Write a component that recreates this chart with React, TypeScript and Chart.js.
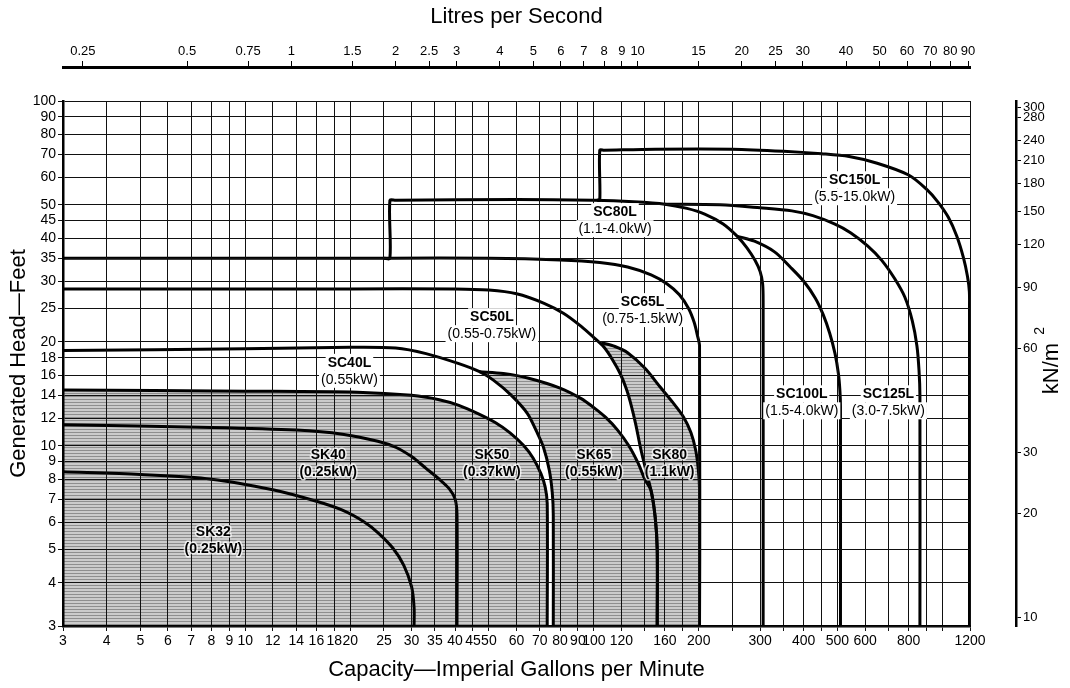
import React, { useEffect, useRef } from 'react';
import { Chart, registerables } from 'chart.js';

Chart.register(...registerables);

const FONT = '"Liberation Sans", Arial, Helvetica, sans-serif';

// ---------- axis values ----------
const GPM_GRID = [3, 4, 5, 6, 7, 8, 9, 10, 12, 14, 16, 18, 20, 25, 30, 35, 40, 45, 50, 60, 70, 80, 90, 100, 120, 140, 160, 180, 200, 250, 300, 350, 400, 450, 500, 600, 700, 800, 900, 1000, 1200];
const GPM_LABELLED = [3, 4, 5, 6, 7, 8, 9, 10, 12, 14, 16, 18, 20, 25, 30, 35, 40, 45, 50, 60, 70, 80, 90, 100, 120, 160, 200, 300, 400, 500, 600, 800, 1200];
const FEET_TICKS = [3, 4, 5, 6, 7, 8, 9, 10, 12, 14, 16, 18, 20, 25, 30, 35, 40, 45, 50, 60, 70, 80, 90, 100];
const LPS_TICKS = [0.25, 0.5, 0.75, 1, 1.5, 2, 2.5, 3, 4, 5, 6, 7, 8, 9, 10, 15, 20, 25, 30, 40, 50, 60, 70, 80, 90];
const KNM2_TICKS = [10, 20, 30, 60, 90, 120, 150, 180, 210, 240, 280, 300];

const GPM_MIN = 3;
const GPM_MAX = 1200;
const FEET_MIN = 3;
const FEET_MAX = 100;
const LPS_MIN = 0.219;
const LPS_MAX = 91.2;
const KNM2_MIN = 9.42;
const KNM2_MAX = 313;

// ---------- pump curves: [gallons per minute, feet] ----------
const SK32: [number, number][] = [[3, 8.4], [5, 8.25], [8, 8.0], [12, 7.45], [16, 6.9], [19, 6.5], [22, 6.0], [24, 5.6], [26.5, 5.05], [28.5, 4.5], [30, 3.9], [30.5, 3.4], [30.5, 3]];
const SK40: [number, number][] = [[3, 11.5], [8, 11.3], [14, 11.1], [19, 10.8], [24, 10.3], [27, 9.9], [30, 9.3], [33, 8.6], [36, 8.0], [38.5, 7.5], [40, 7.0], [40.5, 6.3], [40.5, 3]];
const SK50: [number, number][] = [[3, 14.5], [10, 14.4], [21, 14.3], [30, 14.0], [36, 13.6], [41, 13.1], [46.5, 12.4], [52, 11.7], [57.5, 10.9], [63, 10.0], [67, 9.2], [70.5, 8.3], [72.5, 7.6], [73.5, 6.8], [73.5, 3]];
const SK65: [number, number][] = [[47, 16.4], [55, 16.2], [65, 15.7], [80, 14.7], [92, 13.7], [100, 12.9], [108, 12.1], [117, 11.1], [126, 10.0], [134, 8.9], [140, 8.0], [146, 7.4], [150, 6.2], [152, 5], [152, 3]];
const SK80: [number, number][] = [[105, 19.9], [115, 19.4], [125, 18.6], [140, 16.8], [155, 14.8], [168, 13.4], [181, 12.1], [190, 10.9], [196, 9.7], [199.5, 8.5], [201, 7.5], [201, 3]];

const SC40L: [number, number][] = [[3, 18.9], [10, 19.1], [20, 19.3], [27, 19.2], [33, 18.5], [41, 17.3], [47, 16.4], [51.5, 15.5], [58, 14.0], [64.5, 12.4], [68.5, 11.0], [71.7, 9.9], [74.5, 8.5], [76, 7.3], [76.5, 6.3], [76.5, 3]];
const SC50L: [number, number][] = [[3, 28.5], [20, 28.5], [40, 28.5], [50, 28.3], [60, 27.6], [72, 25.9], [82, 24.2], [92, 22.2], [100, 20.6], [107, 19.3], [113, 17.8], [119, 16.2], [124, 14.6], [128, 13.1], [132, 11.5], [136, 9.9], [141, 8.5], [146, 7.4], [150, 6.2], [152, 5], [152, 3]];
const SC65L: [number, number][] = [[3, 35], [26, 35], [50, 35], [80, 34.6], [104, 34], [125, 33], [146, 31.3], [162, 29.5], [176, 27.4], [187, 25], [194, 22.8], [198, 21], [201, 19.5], [201, 3]];
const SC80L: [number, number][] = [[25, 35], [26, 35], [26, 51.5], [27, 51.5], [60, 51.8], [100, 51.5], [130, 51], [160, 50.2], [185, 48.8], [208, 47], [235, 44], [258, 40.5], [275, 37.5], [290, 34.5], [300, 32], [305, 29.5], [306, 26], [306, 3]];
const SC100L: [number, number][] = [[258, 40.5], [289, 39.2], [330, 36.5], [366, 33], [400, 30], [432, 26.8], [455, 24], [475, 21.2], [492, 18.5], [503, 16.2], [508, 14.5], [510, 13], [510, 3]];
const SC125L: [number, number][] = [[160, 50.2], [230, 50], [300, 49], [370, 48], [425, 46.5], [490, 44], [545, 41.5], [610, 38], [670, 34.5], [730, 30.5], [780, 27], [820, 23], [845, 19.5], [857, 16.5], [862, 14], [862, 3]];
const SC150L: [number, number][] = [[102, 51.6], [104, 51.6], [104, 72], [107, 72], [150, 72.5], [250, 72.5], [350, 71.5], [450, 70.3], [540, 69], [650, 66], [800, 61], [900, 55.5], [970, 51], [1040, 46], [1100, 40.5], [1150, 35], [1180, 31], [1195, 28], [1196, 25], [1196, 3]];

// where the SK65 curve runs into the SC50L curve
const SK65_MEETS_SC50L = 146;

// ---------- curve labels (anchored in gpm / feet) ----------
const CURVE_LABELS = [
  { name: 'SC150L', rating: '(5.5-15.0kW)', gpm: 560, ft: 58.9, boxed: true },
  { name: 'SC80L', rating: '(1.1-4.0kW)', gpm: 115, ft: 47.6, boxed: true },
  { name: 'SC65L', rating: '(0.75-1.5kW)', gpm: 138, ft: 26.1, boxed: true },
  { name: 'SC50L', rating: '(0.55-0.75kW)', gpm: 51, ft: 23.6, boxed: true },
  { name: 'SC40L', rating: '(0.55kW)', gpm: 19.9, ft: 17.4, boxed: true },
  { name: 'SC100L', rating: '(1.5-4.0kW)', gpm: 395, ft: 14.1, boxed: true },
  { name: 'SC125L', rating: '(3.0-7.5kW)', gpm: 700, ft: 14.1, boxed: true },
  { name: 'SK32', rating: '(0.25kW)', gpm: 8.1, ft: 5.6, boxed: false },
  { name: 'SK40', rating: '(0.25kW)', gpm: 17.3, ft: 9.4, boxed: false },
  { name: 'SK50', rating: '(0.37kW)', gpm: 51, ft: 9.4, boxed: false },
  { name: 'SK65', rating: '(0.55kW)', gpm: 100, ft: 9.4, boxed: false },
  { name: 'SK80', rating: '(1.1kW)', gpm: 165, ft: 9.4, boxed: false },
];

const CURVES: { label: string; pts: [number, number][] }[] = [
  { label: 'SK32', pts: SK32 },
  { label: 'SK40', pts: SK40 },
  { label: 'SK50', pts: SK50 },
  { label: 'SK65', pts: SK65 },
  { label: 'SK80', pts: SK80 },
  { label: 'SC40L', pts: SC40L },
  { label: 'SC50L', pts: SC50L },
  { label: 'SC65L', pts: SC65L },
  { label: 'SC80L', pts: SC80L },
  { label: 'SC100L', pts: SC100L },
  { label: 'SC125L', pts: SC125L },
  { label: 'SC150L', pts: SC150L },
];

// outline of the shaded SK operating area, built from the curves above
const SHADE_OUTLINE: [number, number][] = [
  [GPM_MIN, FEET_MIN],
  ...SK50,
  ...[...SC40L].reverse().filter(([g]) => g >= SK65[0][0]),
  ...SK65.filter(([g]) => g > SK65[0][0] && g <= SK65_MEETS_SC50L),
  ...[...SC50L].reverse().filter(([g]) => g > SK80[0][0] && g < SK65_MEETS_SC50L),
  ...SK80,
];

const toXY = (pts: [number, number][]) => pts.map(([x, y]) => ({ x, y }));

const labelsPlugin = {
  id: 'pumpLabels',
  afterDraw(chart: any) {
    const { ctx, scales, chartArea } = chart;
    const xs = scales.x;
    const ys = scales.y;
    ctx.save();
    ctx.textAlign = 'center';
    ctx.textBaseline = 'middle';
    for (const lab of CURVE_LABELS) {
      const px = xs.getPixelForValue(lab.gpm);
      const py = ys.getPixelForValue(lab.ft);
      const nameFont = `bold 14px ${FONT}`;
      const rateFont = lab.boxed ? `14px ${FONT}` : `bold 14px ${FONT}`;
      ctx.font = nameFont;
      const w1 = ctx.measureText(lab.name).width;
      ctx.font = rateFont;
      const w2 = ctx.measureText(lab.rating).width;
      if (lab.boxed) {
        ctx.fillStyle = '#ffffff';
        ctx.fillRect(px - w1 / 2 - 2, py - 9, w1 + 4, 17);
        ctx.fillRect(px - w2 / 2 - 2, py + 8, w2 + 4, 17);
      }
      ctx.fillStyle = '#000';
      if (!lab.boxed) {
        ctx.strokeStyle = 'rgba(255,255,255,0.75)';
        ctx.lineWidth = 3;
        ctx.lineJoin = 'round';
        ctx.font = nameFont;
        ctx.strokeText(lab.name, px, py);
        ctx.font = rateFont;
        ctx.strokeText(lab.rating, px, py + 17);
      }
      ctx.font = nameFont;
      ctx.fillText(lab.name, px, py);
      ctx.font = rateFont;
      ctx.fillText(lab.rating, px, py + 17);
    }
    // right-hand pressure axis title
    const kn = scales.yKn;
    const cx = kn.right - 18;
    const cy = (chartArea.top + chartArea.bottom) / 2 + 5;
    ctx.translate(cx, cy);
    ctx.rotate(-Math.PI / 2);
    ctx.font = `22px ${FONT}`;
    ctx.textAlign = 'center';
    const main = 'kN/m';
    const mw = ctx.measureText(main).width;
    ctx.fillText(main, 0, 0);
    ctx.font = `14px ${FONT}`;
    ctx.textAlign = 'left';
    ctx.fillText('2', mw / 2 + 8, -12);
    ctx.restore();
  },
};

export default function App() {
  const ref = useRef<HTMLCanvasElement>(null);

  useEffect(() => {
    document.body.style.margin = '0';
    const canvas = ref.current!;
    const ctx = canvas.getContext('2d')!;

    const pc = document.createElement('canvas');
    pc.width = 4;
    pc.height = 3;
    const pctx = pc.getContext('2d')!;
    pctx.fillStyle = '#cbcbcb';
    pctx.fillRect(0, 0, 4, 3);
    pctx.fillStyle = '#8e8e8e';
    pctx.fillRect(0, 0, 4, 1);
    const pattern = ctx.createPattern(pc, 'repeat');

    Chart.defaults.font.family = FONT;
    Chart.defaults.color = '#000';

    const datasets: any[] = CURVES.map((c) => ({
      label: c.label,
      data: toXY(c.pts),
      borderColor: '#000',
      borderWidth: 3,
      tension: 0.3,
      pointRadius: 0,
      fill: false,
      order: 0,
    }));
    datasets.push({
      label: 'SK range',
      data: toXY(SHADE_OUTLINE),
      borderColor: 'rgba(0,0,0,0)',
      borderWidth: 0,
      backgroundColor: pattern,
      tension: 0,
      pointRadius: 0,
      fill: 'shape',
      order: 5,
    });

    const chart = new Chart(ctx, {
      type: 'line',
      data: { datasets },
      plugins: [labelsPlugin],
      options: {
        animation: false,
        responsive: false,
        devicePixelRatio: 1,
        layout: { padding: 0 },
        plugins: { legend: { display: false }, tooltip: { enabled: false } },
        elements: { point: { radius: 0 } },
        scales: {
          x: {
            type: 'logarithmic',
            axis: 'x',
            position: 'bottom',
            min: GPM_MIN,
            max: GPM_MAX,
            afterBuildTicks: (s: any) => { s.ticks = GPM_GRID.map((v) => ({ value: v })); },
            afterFit: (s: any) => { s.height = 62; },
            ticks: {
              autoSkip: false,
              maxRotation: 0,
              minRotation: 0,
              padding: 2,
              color: '#000',
              font: { size: 14 },
              callback: (v: any) => (GPM_LABELLED.includes(Number(v)) ? String(v) : ''),
            },
            grid: { color: '#111', lineWidth: 1, tickLength: 5, drawTicks: true, z: 1 },
            border: { display: true, color: '#000', width: 2.5, z: 1 },
            title: { display: true, text: 'Capacity—Imperial Gallons per Minute', font: { size: 22 }, color: '#000', padding: { top: 0, bottom: 5 } },
          },
          xSpacer: {
            type: 'linear',
            axis: 'x',
            position: 'top',
            weight: 0,
            display: true,
            grid: { display: false },
            ticks: { display: false },
            border: { display: false },
            afterFit: (s: any) => { s.height = 34; },
          },
          xTop: {
            type: 'logarithmic',
            axis: 'x',
            position: 'top',
            weight: 1,
            min: LPS_MIN,
            max: LPS_MAX,
            afterBuildTicks: (s: any) => { s.ticks = LPS_TICKS.map((v) => ({ value: v })); },
            afterFit: (s: any) => { s.height = 67; },
            ticks: { autoSkip: false, maxRotation: 0, minRotation: 0, padding: 2, color: '#000', font: { size: 13 }, callback: (v: any) => String(v) },
            grid: { drawOnChartArea: false, drawTicks: true, tickLength: 6, color: '#000', lineWidth: 1 },
            border: { display: true, color: '#000', width: 3 },
            title: { display: true, text: 'Litres per Second', font: { size: 22 }, color: '#000', padding: { top: 4, bottom: 0 } },
          },
          y: {
            type: 'logarithmic',
            axis: 'y',
            position: 'left',
            min: FEET_MIN,
            max: FEET_MAX,
            afterBuildTicks: (s: any) => { s.ticks = FEET_TICKS.map((v) => ({ value: v })); },
            afterFit: (s: any) => { s.width = 63; },
            ticks: { autoSkip: false, padding: 2, color: '#000', font: { size: 14 }, callback: (v: any) => String(v) },
            grid: { color: '#111', lineWidth: 1, tickLength: 5, drawTicks: true, z: 1 },
            border: { display: true, color: '#000', width: 2.5, z: 1 },
            title: { display: true, text: 'Generated Head—Feet', font: { size: 22 }, color: '#000', padding: { top: 6, bottom: 0 } },
          },
          ySpacer: {
            type: 'linear',
            axis: 'y',
            position: 'right',
            weight: 0,
            display: true,
            grid: { display: false },
            ticks: { display: false },
            border: { display: false },
            afterFit: (s: any) => { s.width = 46; },
          },
          yKn: {
            type: 'logarithmic',
            axis: 'y',
            position: 'right',
            weight: 1,
            min: KNM2_MIN,
            max: KNM2_MAX,
            afterBuildTicks: (s: any) => { s.ticks = KNM2_TICKS.map((v) => ({ value: v })); },
            afterFit: (s: any) => { s.width = 54; },
            ticks: { autoSkip: false, padding: 2, color: '#000', font: { size: 13 }, callback: (v: any) => String(v) },
            grid: { drawOnChartArea: false, drawTicks: true, tickLength: 5, color: '#000', lineWidth: 1 },
            border: { display: true, color: '#000', width: 2.5 },
          },
        },
      } as any,
    } as any);

    return () => chart.destroy();
  }, []);

  return <canvas ref={ref} width={1070} height={688} style={{ display: 'block', width: '1070px', height: '688px' }} />;
}
